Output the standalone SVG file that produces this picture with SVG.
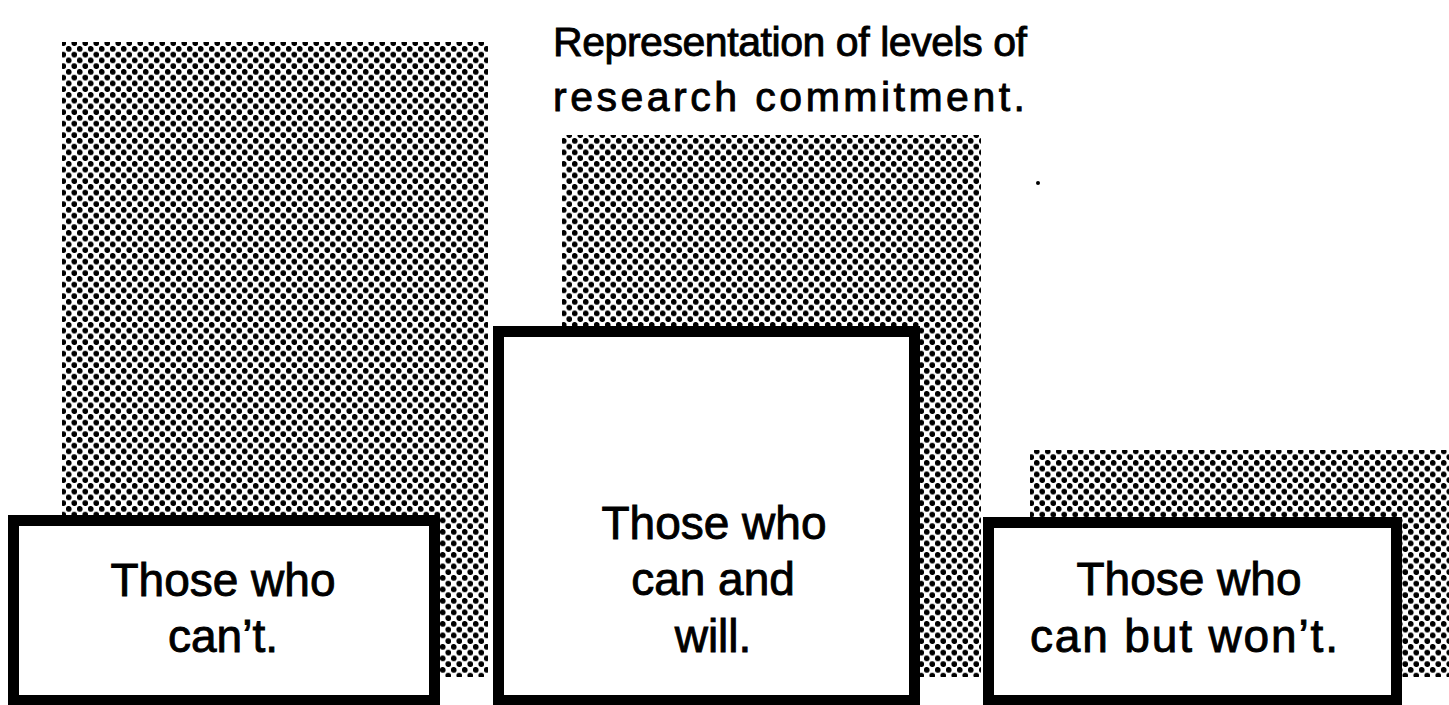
<svg xmlns="http://www.w3.org/2000/svg" width="1449" height="705" viewBox="0 0 1449 705">
  <defs>
    <pattern id="dots" patternUnits="userSpaceOnUse" width="11" height="11.5">
      <circle cx="2.75" cy="2.875" r="2.9" fill="#000"/>
      <circle cx="8.25" cy="8.625" r="2.9" fill="#000"/>
    </pattern>
  </defs>
  <style>
    .shade { fill: url(#dots); }
    .box { fill: #fff; stroke: #000; stroke-width: 11; }
    .lbl { font-family: "Liberation Sans", Arial, sans-serif; font-size: 46px; fill: #000; stroke: #000; stroke-width: 0.9; text-anchor: middle; }
    .title { font-family: "Liberation Sans", Arial, sans-serif; font-size: 41px; fill: #000; stroke: #000; stroke-width: 0.9; }
  </style>
  <rect width="1449" height="705" fill="#fff"/>

  <g id="shading">
    <rect class="shade" x="62" y="42" width="426" height="635"/>
    <rect class="shade" x="562" y="135" width="419" height="542"/>
    <rect class="shade" x="1030" y="450" width="419" height="227"/>
  </g>

  <g id="title">
    <text class="title" x="553" y="56" textLength="474" lengthAdjust="spacing">Representation of levels of</text>
    <text class="title" x="553" y="111" textLength="472" lengthAdjust="spacing">research commitment.</text>
  </g>

  <circle cx="1038" cy="183" r="2" fill="#000"/>

  <g id="connectors"></g>

  <g id="node-cant">
    <rect class="box" x="13.5" y="520.5" width="421" height="180"/>
    <text class="lbl" x="223" y="596">Those who</text>
    <text class="lbl" x="223" y="652">can’t.</text>
  </g>

  <g id="node-can-and-will">
    <rect class="box" x="498.5" y="331.5" width="416" height="369"/>
    <text class="lbl" x="714" y="539">Those who</text>
    <text class="lbl" x="713" y="595">can and</text>
    <text class="lbl" x="713" y="652">will.</text>
  </g>

  <g id="node-can-but-wont">
    <rect class="box" x="988.5" y="522.5" width="408" height="178"/>
    <text class="lbl" x="1189" y="595">Those who</text>
    <text class="lbl" x="1184" y="652" textLength="308" lengthAdjust="spacing">can but won’t.</text>
  </g>
</svg>
